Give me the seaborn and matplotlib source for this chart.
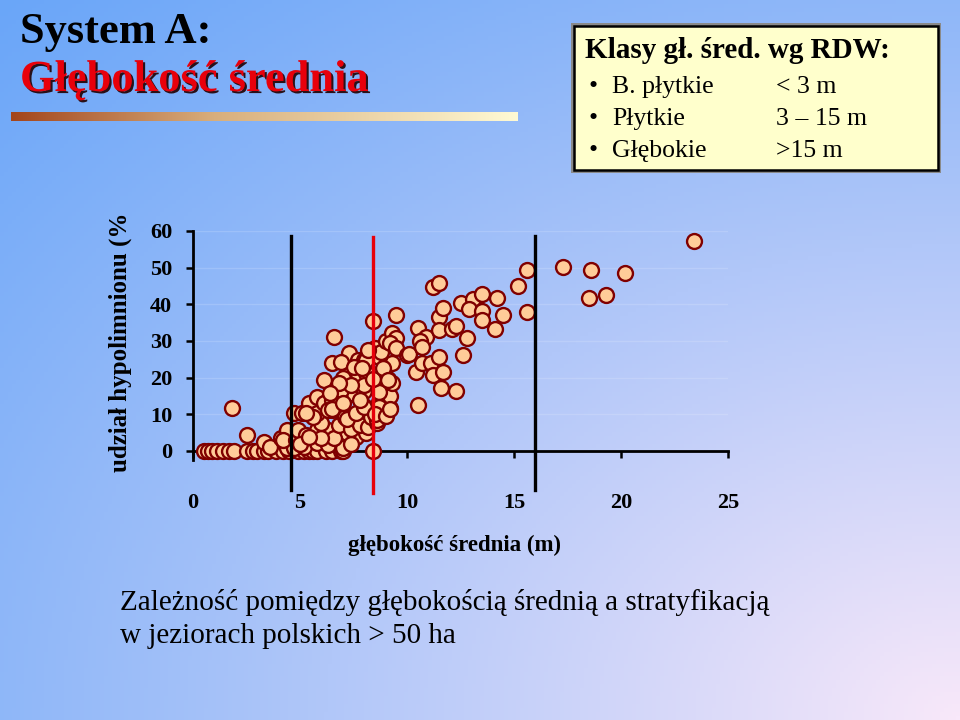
import numpy as np
import pandas as pd
import matplotlib
matplotlib.use('Agg')
import matplotlib.pyplot as plt
import matplotlib.patheffects as pe
from matplotlib.patches import Rectangle
import seaborn as sns

# lakes with no hypolimnion (depth m, share %)
zero_row = [(0.5, 0), (0.7, 0), (0.9, 0), (1.1, 0), (1.4, 0), (1.7, 0), (1.9, 0),
            (2.5, 0), (2.8, 0), (3.0, 0), (3.3, 0), (3.5, 0), (3.9, 0), (4.2, 0),
            (4.5, 0), (4.9, 0), (5.2, 0), (5.4, 0), (5.6, 0), (5.8, 0), (6.2, 0),
            (6.5, 0), (6.9, 0), (7.0, 0), (8.4, 0)]

# shallow lakes, small hypolimnion
low_cluster = [(1.8, 11.7), (2.5, 4.4), (3.3, 2.5), (3.6, 1.0), (4.1, 3.5), (4.4, 5.7),
               (4.4, 0.8), (4.7, 0.8), (4.2, 3.0), (4.8, 3.0), (5.2, 1.1), (5.8, 2.2),
               (6.3, 1.6), (6.9, 2.5), (7.0, 0.8), (7.2, 4.9), (7.6, 3.8), (8.1, 4.9),
               (4.9, 5.7), (5.3, 4.4), (5.8, 5.7), (6.3, 5.7), (6.6, 3.5), (7.4, 2.0),
               (5.0, 1.8), (6.0, 3.5), (5.4, 3.8), (6.0, 7.5), (6.8, 7.0), (7.4, 6.0),
               (7.8, 7.0), (8.2, 6.5), (8.6, 7.6)]

# main cloud
mid_cluster = [(4.7, 10.4), (5.1, 10.4), (5.4, 13.1), (5.8, 14.7), (6.3, 13.9), (6.7, 15.8),
               (5.8, 10.4), (6.5, 11.2), (7.1, 9.3), (5.6, 9.3), (6.1, 13.1), (6.5, 13.9),
               (6.3, 11.2), (6.5, 11.5), (7.2, 8.7), (7.6, 10.4), (8.0, 12.3), (8.3, 9.3),
               (8.6, 8.5), (9.2, 11.7), (8.7, 13.4), (7.5, 15.5), (8.0, 16.4), (8.7, 16.4),
               (9.2, 15.0), (6.9, 16.6), (7.3, 21.0), (7.7, 21.0), (7.0, 19.9), (6.1, 19.4),
               (8.1, 21.3), (9.1, 19.6), (9.3, 24.0), (7.3, 26.7), (7.7, 24.8), (8.0, 24.8),
               (6.5, 24.0), (6.9, 24.3), (8.7, 25.6), (6.6, 31.1), (8.4, 35.5), (8.1, 24.8),
               (9.3, 18.5), (8.7, 16.1), (8.0, 18.0), (8.7, 12.0), (8.0, 12.0), (7.8, 14.0),
               (7.0, 13.0), (7.4, 18.0), (6.8, 18.5), (8.4, 19.5), (8.9, 22.5), (7.5, 23.0),
               (8.5, 28.0), (8.8, 27.0), (9.0, 30.0), (8.2, 27.5), (7.9, 22.5), (8.5, 10.0),
               (9.0, 9.5), (5.3, 10.4), (6.4, 15.8), (9.2, 11.5), (9.1, 19.4)]

# deeper lakes
upper_points = [(9.3, 32.2), (9.5, 30.8), (9.2, 29.5), (9.5, 28.1), (9.5, 37.1), (10.0, 26.2),
                (10.1, 26.5), (10.4, 21.5), (10.7, 24.0), (11.1, 24.0), (11.2, 20.7), (11.7, 21.5),
                (11.6, 17.2), (12.3, 16.4), (10.5, 12.5), (10.5, 33.5), (10.9, 31.1), (10.6, 30.0),
                (10.7, 28.4), (11.5, 36.5), (11.7, 39.0), (11.5, 33.0), (12.1, 33.3), (12.3, 34.1),
                (12.8, 30.8), (12.6, 26.2), (11.5, 25.6), (11.2, 44.8), (11.5, 45.8), (12.5, 40.4),
                (13.1, 41.5), (13.5, 42.8), (14.2, 41.7), (12.9, 38.7), (13.5, 38.2), (13.5, 35.7),
                (14.5, 37.1), (14.1, 33.3), (15.2, 45.0), (15.6, 37.9), (15.6, 49.4), (17.3, 50.2),
                (18.6, 49.4), (20.2, 48.6), (18.5, 41.7), (19.3, 42.5), (23.4, 57.3)]

class_lines = [4.6, 16.0]
median_line = 8.4
x_ticks = [0, 5, 10, 15, 20, 25]
y_ticks = [0, 10, 20, 30, 40, 50, 60]

df = pd.DataFrame(zero_row + low_cluster + mid_cluster + upper_points,
                  columns=['depth', 'share'])

W, H = 960, 720
def fx(x):
    return x / W
def fy(y):
    return 1 - y / H

plt.rcParams['font.family'] = ['Liberation Serif', 'DejaVu Serif']
fig = plt.figure(figsize=(9.6, 7.2), dpi=100)

# slide background: blue top-left fading to pale pink bottom-right
bg = fig.add_axes([0, 0, 1, 1], zorder=-10)
gx, gy = np.meshgrid(np.linspace(0, 1, 240), np.linspace(0, 1, 180))
t = 1 - np.sqrt((1 - gx) ** 2 + (1 - gy) ** 2) / np.sqrt(2)
t = np.clip(t, 0, 1) ** 1.1
c0 = np.array([0x6a, 0xa6, 0xf8]) / 255
c1 = np.array([0xf8, 0xe8, 0xfa]) / 255
img = c0[None, None, :] * (1 - t[..., None]) + c1[None, None, :] * t[..., None]
bg.imshow(img, aspect='auto', extent=[0, 1, 1, 0])
bg.set_axis_off()

# titles
fig.text(fx(20), fy(32), 'System A:', fontsize=32, fontweight='bold', color='black',
         ha='left', va='center')
fig.text(fx(20), fy(80), 'Głębokość średnia', fontsize=32, fontweight='bold', color='#e8000b',
         ha='left', va='center',
         path_effects=[pe.SimplePatchShadow(offset=(1.5, -1.5), shadow_rgbFace='#200000', alpha=0.9),
                       pe.Normal()])

# gradient bar under the title
bar = fig.add_axes([fx(11), fy(121), fx(507), 9 / H])
bx = np.linspace(0, 1, 300)
b0 = np.array([0xa3, 0x45, 0x1c]) / 255
b1 = np.array([0xd8, 0xae, 0x7c]) / 255
b2 = np.array([0xff, 0xfa, 0xd4]) / 255
bar_img = np.where(bx[:, None] < 0.4,
                   b0 * (1 - bx[:, None] / 0.4) + b1 * (bx[:, None] / 0.4),
                   b1 * (1 - (bx[:, None] - 0.4) / 0.6) + b2 * ((bx[:, None] - 0.4) / 0.6))
bar.imshow(bar_img[None, :, :], aspect='auto')
bar.set_axis_off()

# class box
fig.patches.append(Rectangle((fx(571), fy(173)), fx(370), 150 / H, transform=fig.transFigure,
                             facecolor='#8a8a8a', edgecolor='none', zorder=1))
fig.patches.append(Rectangle((fx(574), fy(170)), fx(364), 144 / H, transform=fig.transFigure,
                             facecolor='#ffffcc', edgecolor='black', linewidth=1.8, zorder=2))
fig.text(fx(585), fy(50), 'Klasy gł. śred. wg RDW:', fontsize=21, fontweight='bold',
         ha='left', va='center', zorder=3)
rows = [('B. płytkie', '< 3 m'), ('Płytkie', '3 – 15 m'), ('Głębokie', '>15 m')]
for k, (name, rng) in enumerate(rows):
    yy = 87 + k * 32
    fig.text(fx(588), fy(yy), '•', fontsize=18.5, ha='left', va='center', zorder=3)
    fig.text(fx(612), fy(yy), name, fontsize=18.5, ha='left', va='center', zorder=3)
    fig.text(fx(776), fy(yy), rng, fontsize=18.5, ha='left', va='center', zorder=3)

# scatter axes
ax = fig.add_axes([fx(193), fy(460), fx(728 - 193), (460 - 231) / H])
ax.set_facecolor('none')
sns.scatterplot(data=df, x='depth', y='share', ax=ax, s=115, color='#ffcc99',
                edgecolor='#800000', linewidth=1.7, zorder=3, clip_on=False)

for xv in class_lines:
    ax.plot([xv, xv], [-10.6, 58.5], color='black', lw=2.4, zorder=4, clip_on=False)
ax.plot([median_line, median_line], [-11.5, 58.3], color='#e8000b', lw=2.4, zorder=4, clip_on=False)

ax.set_xlim(0, 25)
ax.set_ylim(-2.5, 60)
ax.set_xticks(x_ticks)
ax.set_yticks(y_ticks)
for yv in y_ticks[1:]:
    ax.axhline(yv, color='white', alpha=0.15, lw=1, zorder=1)

ax.spines['top'].set_visible(False)
ax.spines['right'].set_visible(False)
ax.spines['bottom'].set_position(('data', 0))
ax.spines['bottom'].set_linewidth(2)
ax.spines['left'].set_linewidth(2)
ax.tick_params(axis='y', direction='out', length=5, width=1.8, pad=10, labelsize=16)
ax.tick_params(axis='x', direction='out', length=5, width=1.8, pad=25, labelsize=16)
for lab in ax.get_xticklabels() + ax.get_yticklabels():
    lab.set_fontweight('bold')
ax.set_xlabel('')
ax.set_ylabel('')

fig.text(fx(455), fy(545), 'głębokość średnia (m)', fontsize=16.5, fontweight='bold',
         ha='center', va='center')
fig.text(fx(120), fy(342), 'udział hypolimnionu (%', fontsize=18, fontweight='bold',
         rotation=90, ha='center', va='center')

# caption
fig.text(fx(120), fy(603), 'Zależność pomiędzy głębokością średnią a stratyfikacją',
         fontsize=21, ha='left', va='center')
fig.text(fx(120), fy(636), 'w jeziorach polskich > 50 ha', fontsize=21, ha='left', va='center')

fig.savefig('out.png', dpi=100)
